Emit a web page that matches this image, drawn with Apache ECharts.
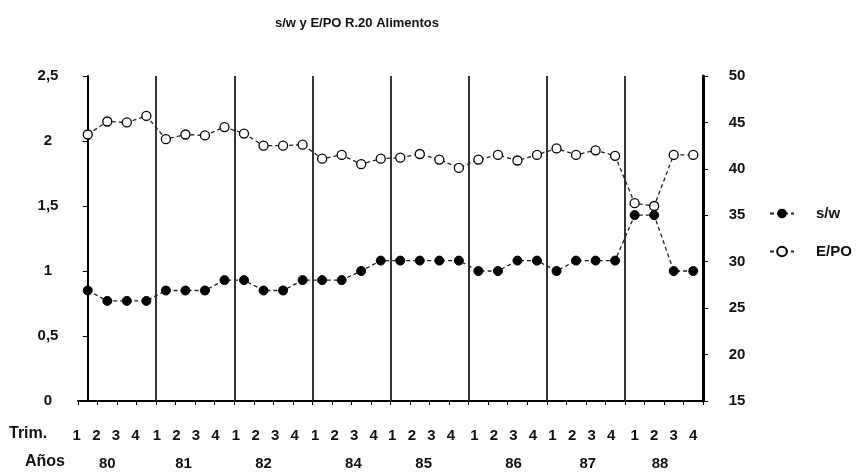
<!DOCTYPE html>
<html>
<head>
<meta charset="utf-8">
<script src="https://cdn.jsdelivr.net/npm/echarts@6/dist/echarts.min.js"></script>
<style>html,body{margin:0;padding:0;background:#fff}#c{width:865px;height:476px}</style>
</head>
<body>
<div id="c"></div>
<script>
const years = ['80','81','82','84','85','86','87','88'];
const quarters = ['1','2','3','4'];
const yearLabelPos = [1.0, 4.9, 9.0, 13.6, 17.2, 21.8, 25.6, 29.3];
const sw = [0.85,0.77,0.77,0.77, 0.85,0.85,0.85,0.93, 0.93,0.85,0.85,0.93,
            0.93,0.93,1.00,1.08, 1.08,1.08,1.08,1.08, 1.00,1.00,1.08,1.08,
            1.00,1.08,1.08,1.08, 1.43,1.43,1.00,1.00];
const epo = [43.7,45.1,45.0,45.7, 43.2,43.7,43.6,44.5, 43.8,42.5,42.5,42.6,
             41.1,41.5,40.5,41.1, 41.2,41.6,41.0,40.1, 41.0,41.5,40.9,41.5,
             42.2,41.5,42.0,41.4, 36.3,36.0,41.5,41.5];
const leftTicks = [0, 2.5, 0.5];
const rightTicks = [15, 50, 5];

const categories = [];
years.forEach(y => quarters.forEach(q => categories.push(y + '-' + q)));

const font = 'Arial, "Liberation Sans", sans-serif';
const lblFont = {fontFamily: font, fontSize: 15, fontWeight: 'bold', color: '#111'};
// per-group horizontal shift of the hand-placed quarter labels (layout only)
const groupShift = [11, 9, 8, 7, 8, 4, 4, 0];
const rich = {};
groupShift.forEach((s, g) => { rich['g' + g] = Object.assign({padding: [0, 2 * s, 0, 0]}, lblFont); });

const chart = echarts.init(document.getElementById('c'), null, {renderer: 'canvas'});
chart.setOption({
  animation: false,
  backgroundColor: '#fff',
  title: {
    text: 's/w y E/PO R.20 Alimentos',
    left: 270, top: 12,
    textStyle: {fontFamily: font, fontSize: 13, fontWeight: 'bold', color: '#111'}
  },
  legend: {
    orient: 'vertical',
    left: 764, top: 201,
    itemWidth: 24, itemHeight: 12, itemGap: 23,
    textStyle: Object.assign({padding: [0, 0, 0, 17]}, lblFont),
    data: ['s/w', 'E/PO']
  },
  grid: {left: 78, right: 162, top: 76, bottom: 75, containLabel: false},
  graphic: [
    {type: 'text', left: 9, top: 426, style: {text: 'Trim.', font: 'bold 16px Arial, "Liberation Sans", sans-serif', fill: '#111'}},
    {type: 'text', left: 25, top: 454, style: {text: 'Años', font: 'bold 16px Arial, "Liberation Sans", sans-serif', fill: '#111'}}
  ],
  xAxis: [
    {
      type: 'category', data: categories, boundaryGap: true,
      axisLine: {lineStyle: {color: '#000', width: 2}},
      axisTick: {show: true, length: 4, lineStyle: {color: '#000'}},
      axisLabel: Object.assign({
        margin: 27, interval: 0,
        formatter: (v, i) => '{g' + Math.floor(i / 4) + '|' + v.split('-')[1] + '}',
        rich: rich
      }, lblFont),
      splitLine: {
        show: true,
        interval: (i) => i > 0 && i % 4 === 0,
        lineStyle: {color: '#000', width: 1.6}
      }
    },
    {
      type: 'value', min: -0.5, max: 31.5, position: 'bottom',
      axisLine: {show: false}, axisTick: {show: false}, splitLine: {show: false},
      axisLabel: Object.assign({
        margin: 55,
        customValues: yearLabelPos,
        formatter: (v) => { const k = yearLabelPos.indexOf(v); return k >= 0 ? years[k] : ''; }
      }, lblFont)
    }
  ],
  yAxis: [
    {
      type: 'value', min: leftTicks[0], max: leftTicks[1], interval: leftTicks[2],
      axisLine: {show: true, lineStyle: {color: '#000', width: 2}},
      axisTick: {show: true, length: 5, lineStyle: {color: '#000'}},
      splitLine: {show: false},
      axisLabel: Object.assign({
        margin: 30, align: 'center',
        formatter: v => String(v).replace('.', ',')
      }, lblFont)
    },
    {
      type: 'value', position: 'right', min: rightTicks[0], max: rightTicks[1], interval: rightTicks[2],
      axisLine: {show: true, lineStyle: {color: '#000', width: 3}},
      axisTick: {show: true, length: 5, lineStyle: {color: '#000'}},
      splitLine: {show: false},
      axisLabel: Object.assign({margin: 34, align: 'center'}, lblFont)
    }
  ],
  series: [
    {
      name: 's/w', type: 'line', xAxisIndex: 0, yAxisIndex: 0, data: sw,
      symbol: 'circle', symbolSize: 9,
      itemStyle: {color: '#000', borderColor: '#000'},
      lineStyle: {color: '#222', width: 1.3, type: [4, 3]}
    },
    {
      name: 'E/PO', type: 'line', xAxisIndex: 0, yAxisIndex: 1, data: epo,
      symbol: 'circle', symbolSize: 9,
      itemStyle: {color: '#fff', borderColor: '#000', borderWidth: 1.3},
      lineStyle: {color: '#222', width: 1.3, type: [4, 3]}
    }
  ]
});
</script>
</body>
</html>
